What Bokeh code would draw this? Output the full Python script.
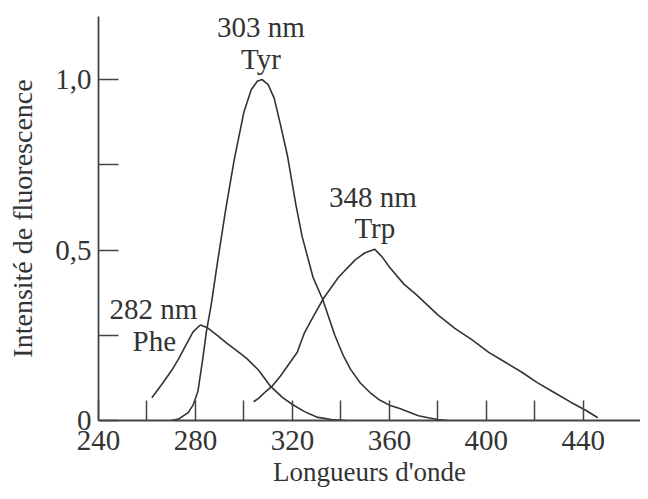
from bokeh.plotting import figure
from bokeh.models import FixedTicker, Label
from bokeh.embed import file_html
from bokeh.resources import INLINE

# ---- data ----
phe_x = [262, 266, 270, 273, 276, 279, 282, 285, 289, 293, 297, 301, 306, 311, 316, 320, 325, 330, 336, 342]
phe_y = [0.067, 0.105, 0.145, 0.18, 0.22, 0.26, 0.28, 0.272, 0.25, 0.226, 0.205, 0.183, 0.148, 0.1, 0.067, 0.047, 0.026, 0.01, 0.003, 0.0]

tyr_x = [270, 273, 277, 279, 281, 283, 284.5, 286.5, 289, 292.5, 296, 300, 303, 305.5, 307.5, 310, 312.5, 315, 318,
         321.5, 324, 328.5, 332.5, 337.5, 341, 344, 348, 352, 356, 360, 364, 368, 372, 376, 380, 384]
tyr_y = [0.0, 0.004, 0.023, 0.045, 0.085, 0.18, 0.26, 0.34, 0.46, 0.62, 0.765, 0.905, 0.97, 0.995, 1.0, 0.985, 0.945,
         0.87, 0.775, 0.63, 0.54, 0.42, 0.355, 0.25, 0.19, 0.15, 0.11, 0.082, 0.06, 0.045, 0.036, 0.025, 0.014, 0.008,
         0.003, 0.0]

trp_x = [304, 306, 309, 311.5, 315, 318, 322, 325, 329, 333, 339, 346, 350, 354, 357, 360, 366, 371, 380, 387, 394,
         401, 408, 415, 421, 428, 435, 441, 446]
trp_y = [0.055, 0.065, 0.085, 0.1, 0.13, 0.16, 0.2, 0.258, 0.31, 0.36, 0.42, 0.472, 0.492, 0.502, 0.48, 0.45, 0.4,
         0.37, 0.31, 0.27, 0.237, 0.2, 0.17, 0.14, 0.111, 0.082, 0.053, 0.03, 0.008]

x_major_ticks = [240, 280, 320, 360, 400, 440]
x_minor_ticks = [260, 300, 340, 380, 420]
y_major_ticks = [0, 0.5, 1.0]
y_minor_ticks = [0.25, 0.75]
y_tick_labels = {0: "0", 0.5: "0,5", 1.0: "1,0"}

x_title = "Longueurs d'onde"
y_title = "Intensité de fluorescence"
peak_texts = ["303 nm", "Tyr", "348 nm", "Trp", "282 nm", "Phe"]

FONT = "Liberation Serif"
INK = "#333333"
FS = "29px"

p = figure(width=640, height=491, x_range=(240, 463.6), y_range=(0, 1.185),
           output_backend="svg", toolbar_location=None,
           min_border_left=98, min_border_right=0, min_border_top=16, min_border_bottom=71)
p.outline_line_color = None
p.grid.visible = False
p.background_fill_color = "white"
p.border_fill_color = "white"

for xs, ys in [(phe_x, phe_y), (tyr_x, tyr_y), (trp_x, trp_y)]:
    p.line(xs, ys, line_color=INK, line_width=1.6)

xa = p.xaxis[0]
xa.ticker = FixedTicker(ticks=x_major_ticks, minor_ticks=x_minor_ticks)
xa.axis_label = x_title
ya = p.yaxis[0]
ya.ticker = FixedTicker(ticks=y_major_ticks, minor_ticks=y_minor_ticks)
ya.major_label_overrides = y_tick_labels
ya.axis_label = y_title

for ax in (xa, ya):
    ax.axis_line_color = "#444444"
    ax.axis_line_width = 1.8
    ax.major_tick_line_color = "#444444"
    ax.minor_tick_line_color = "#444444"
    ax.major_tick_line_width = 1.5
    ax.minor_tick_line_width = 1.5
    ax.major_tick_in = 20
    ax.major_tick_out = 0
    ax.minor_tick_in = 20
    ax.minor_tick_out = 0
    ax.major_label_text_font = FONT
    ax.major_label_text_font_size = FS
    ax.major_label_text_color = INK
    ax.axis_label_text_font = FONT
    ax.axis_label_text_font_style = "normal"
    ax.axis_label_text_color = INK
xa.axis_label_text_font_size = "27px"
ya.axis_label_text_font_size = "28px"
xa.major_label_standoff = 10
xa.axis_label_standoff = 4
ya.major_label_standoff = 7
ya.axis_label_standoff = 14

# peak annotations
label_pos = [(307, 1.155), (307, 1.059), (353.2, 0.657), (354, 0.566), (262.7, 0.326), (263, 0.232)]
for t, (lx, ly) in zip(peak_texts, label_pos):
    p.add_layout(Label(x=lx, y=ly, text=t, text_font=FONT, text_font_size=FS,
                       text_color=INK, text_align="center", text_baseline="middle"))

open("out.html", "w").write(file_html(p, INLINE))
